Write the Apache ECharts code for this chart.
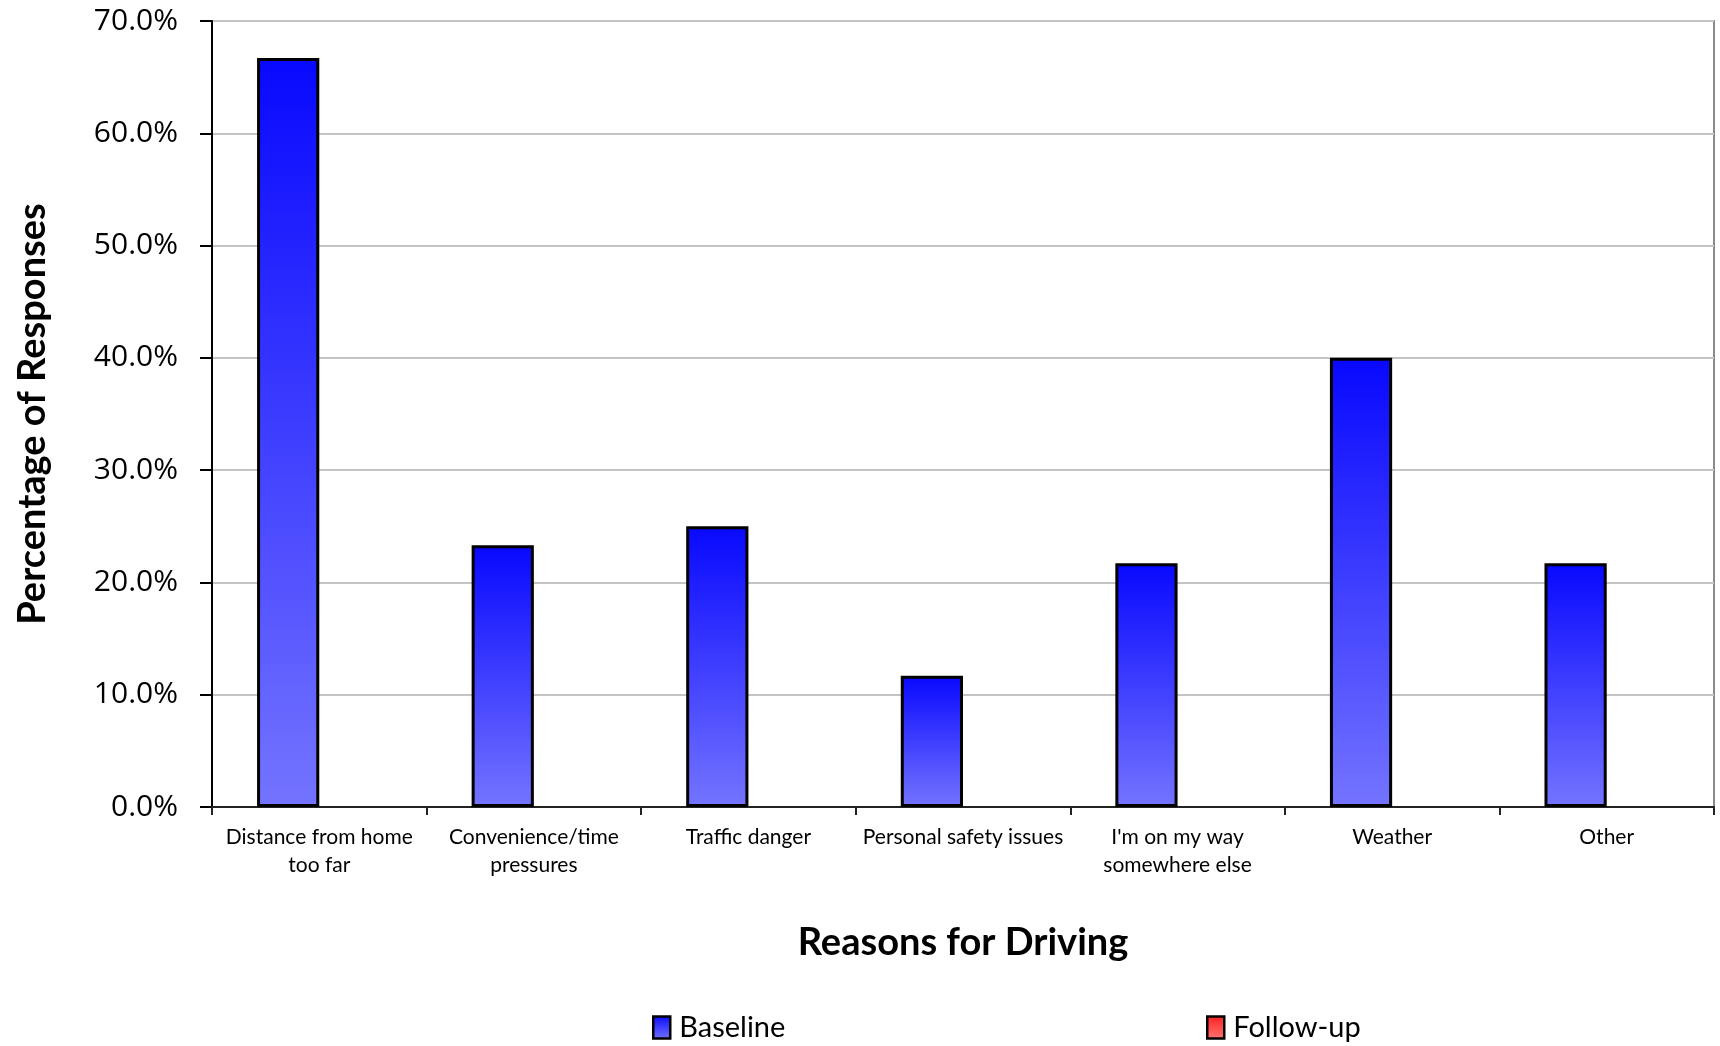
<!DOCTYPE html>
<html>
<head>
<meta charset="utf-8">
<script src="https://cdn.jsdelivr.net/npm/echarts@6/dist/echarts.min.js"></script>
<style>html,body{margin:0;padding:0;background:#fff}#c{width:1720px;height:1046px}</style>
</head>
<body>
<div id="c"></div>
<script>
const categories = ['Distance from home\ntoo far', 'Convenience/time\npressures', 'Traffic danger', 'Personal safety issues', "I'm on my way\nsomewhere else", 'Weather', 'Other'];
const baseline = [66.7, 23.3, 25.0, 11.7, 21.7, 40.0, 21.7];
const followUp = [null, null, null, null, null, null, null];
const yTicks = { min: 0, max: 70, interval: 10 };

const FONT = 'Lato, "Open Sans", sans-serif';
const chart = echarts.init(document.getElementById('c'), null, { renderer: 'canvas' });
const blueGrad = new echarts.graphic.LinearGradient(0, 0, 0, 1, [
  { offset: 0, color: '#0808ff' },
  { offset: 1, color: '#7474ff' }
]);
const redGrad = new echarts.graphic.LinearGradient(0, 0, 0, 1, [
  { offset: 0, color: '#ff2020' },
  { offset: 1, color: '#ff7474' }
]);
const legendBase = {
  top: 1008, itemWidth: 17, itemHeight: 22, icon: 'rect',
  textStyle: { fontFamily: FONT, fontSize: 29, color: '#000', padding: [0, 0, 0, 4] },
  itemStyle: { borderWidth: 2.5, borderColor: '#000' }
};
chart.setOption({
  animation: false,
  backgroundColor: '#fff',
  textStyle: { fontFamily: FONT },
  grid: { left: 212, right: 6, top: 21, bottom: 239, show: true, borderColor: '#8a8a8a', borderWidth: 2, backgroundColor: 'transparent' },
  legend: [
    Object.assign({}, legendBase, { left: 647, data: ['Baseline'] }),
    Object.assign({}, legendBase, { left: 1201, data: ['Follow-up'] })
  ],
  xAxis: {
    type: 'category', data: categories,
    name: 'Reasons for Driving', nameLocation: 'middle', nameGap: 117,
    nameTextStyle: { fontFamily: FONT, fontSize: 38, fontWeight: 'bold', color: '#000' },
    axisLine: { lineStyle: { color: '#222', width: 2 } },
    axisTick: { show: true, alignWithLabel: false, length: 8, lineStyle: { color: '#222', width: 2 } },
    axisLabel: { interval: 0, color: '#000', fontSize: 21, lineHeight: 28, margin: 16, fontFamily: FONT }
  },
  yAxis: {
    type: 'value', min: yTicks.min, max: yTicks.max, interval: yTicks.interval,
    name: 'Percentage of Responses', nameLocation: 'middle', nameGap: 160, nameRotate: 90,
    nameTextStyle: { fontFamily: FONT, fontSize: 38, fontWeight: 'bold', color: '#000' },
    axisLine: { show: true, lineStyle: { color: '#000', width: 2 } },
    axisTick: { show: true, inside: false, length: 12, lineStyle: { color: '#000', width: 2 } },
    axisLabel: { color: '#000', fontSize: 30, margin: 34, fontFamily: '"Open Sans", sans-serif', formatter: v => v.toFixed(1) + '%' },
    splitLine: { lineStyle: { color: '#c4c4c4', width: 2 } }
  },
  series: [
    { name: 'Baseline', type: 'bar', data: baseline, barGap: '0%', barCategoryGap: '42%',
      itemStyle: { color: blueGrad, borderColor: '#000', borderWidth: 3 } },
    { name: 'Follow-up', type: 'bar', data: followUp,
      itemStyle: { color: redGrad, borderColor: '#000', borderWidth: 3 } }
  ]
});
</script>
</body>
</html>
